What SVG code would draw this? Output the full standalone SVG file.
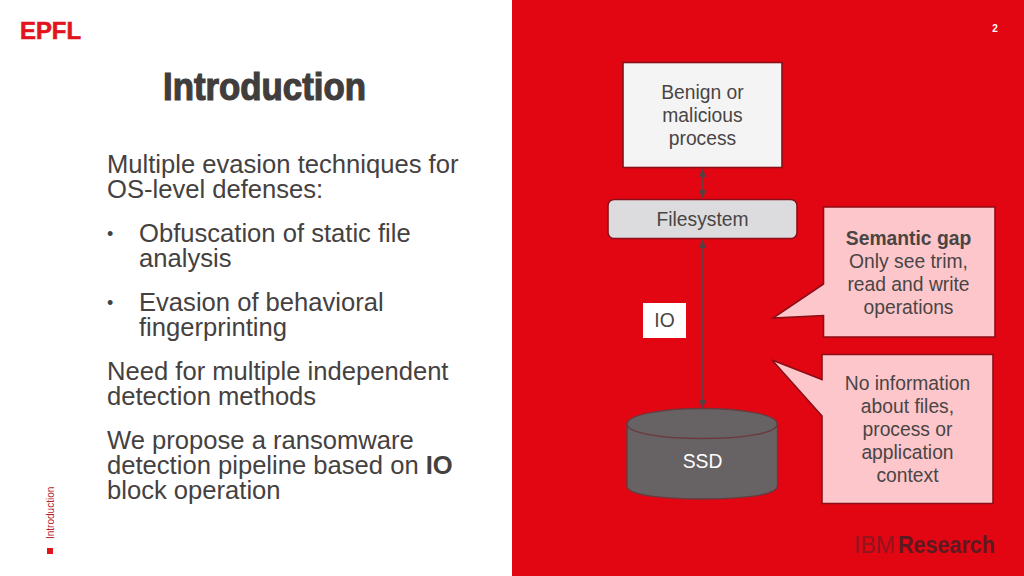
<svg xmlns="http://www.w3.org/2000/svg" width="1024" height="576" viewBox="0 0 1024 576">
<style>
text{font-family:"Liberation Sans",Arial,sans-serif}
.body{font-size:25.6px;fill:#45413f}
.bullet{font-size:18px;fill:#45413f}
.node{font-size:19.3px;fill:#494544;text-anchor:middle}
.edge{stroke:#6d3c40;stroke-width:1;fill:none}
.box{stroke:#8a0f18;stroke-width:1.6}
.bubble{fill:#fdc6cb;stroke:#8a0f18;stroke-width:1.6}
</style>
<defs>
<marker id="ah" markerWidth="10" markerHeight="8" refX="8" refY="4" orient="auto-start-reverse" markerUnits="userSpaceOnUse"><path d="M0 0L8 4L0 8Z" fill="#553f43"/></marker>
</defs>
<rect width="1024" height="576" fill="#ffffff"/>
<rect x="512" width="512" height="576" fill="#e20612"/>
<g id="logo"><text x="20" y="39" font-size="23.5" font-weight="700" fill="#e2141d" stroke="#e2141d" stroke-width="0.6" textLength="61" lengthAdjust="spacingAndGlyphs">EPFL</text></g>
<text x="995" y="32" font-size="10" font-weight="700" fill="#ffffff" text-anchor="middle">2</text>
<text x="163" y="100" font-size="38" font-weight="700" fill="#413d3c" stroke="#413d3c" stroke-width="1.2" textLength="203" lengthAdjust="spacingAndGlyphs">Introduction</text>
<g class="bodytext">
<text class="body" x="107" y="173">Multiple evasion techniques for</text>
<text class="body" x="107" y="198">OS-level defenses:</text>
<text class="bullet" x="107" y="240">•</text>
<text class="body" x="139" y="242">Obfuscation of static file</text>
<text class="body" x="139" y="267">analysis</text>
<text class="bullet" x="107" y="309">•</text>
<text class="body" x="139" y="311">Evasion of behavioral</text>
<text class="body" x="139" y="336">fingerprinting</text>
<text class="body" x="107" y="380">Need for multiple independent</text>
<text class="body" x="107" y="405">detection methods</text>
<text class="body" x="107" y="449">We propose a ransomware</text>
<text class="body" x="107" y="474">detection pipeline based on <tspan font-weight="700">IO</tspan></text>
<text class="body" x="107" y="499">block operation</text>
</g>
<text transform="translate(54 539) rotate(-90)" font-size="10" fill="#b5202a">Introduction</text>
<rect x="47" y="548" width="6" height="6" fill="#e2141d"/>
<g id="connectors">
<line class="edge" x1="702.500" y1="169" x2="702.500" y2="198" marker-start="url(#ah)" marker-end="url(#ah)"/>
<line class="edge" x1="702.500" y1="240" x2="702.500" y2="408" marker-start="url(#ah)" marker-end="url(#ah)"/>
</g>
<g id="process"><rect class="box" x="623" y="62.500" width="159" height="105" fill="#f4f4f5"/>
<text class="node" x="702.500" y="99">Benign or</text><text class="node" x="702.500" y="122">malicious</text><text class="node" x="702.500" y="145">process</text></g>
<g id="filesystem"><rect class="box" x="608" y="199.500" width="189" height="39" rx="6" fill="#dcdcde"/>
<text class="node" x="702.500" y="226">Filesystem</text></g>
<g id="io"><rect x="643" y="303" width="43" height="35" fill="#ffffff"/>
<text class="node" x="664.500" y="327">IO</text></g>
<g id="ssd">
<path d="M627 424C627 415 661 408.500 702.500 408.500C744 408.500 777.500 415 777.500 424V486C777.500 495 744 499 702.500 499C661 499 627 495 627 486Z" fill="#676263" stroke="#6a3a3e" stroke-width="1.400"/>
<path d="M627 424C627 433 661 438.500 702.500 438.500C744 438.500 777.500 433 777.500 424" fill="none" stroke="#6a3a3e" stroke-width="1.400"/>
<text class="node" x="702.500" y="468" style="fill:#ffffff">SSD</text></g>
<g id="gap"><path class="bubble" d="M823.500 207H995V337H823.500V315.500L773 318L823.500 284Z"/>
<text class="node" x="908.500" y="245" font-weight="700">Semantic gap</text><text class="node" x="908.500" y="268">Only see trim,</text><text class="node" x="908.500" y="291">read and write</text><text class="node" x="908.500" y="314">operations</text></g>
<g id="context"><path class="bubble" d="M822 354.500H993V503.500H822V416L772 360L822 379.500Z"/>
<text class="node" x="907.500" y="390">No information</text><text class="node" x="907.500" y="413">about files,</text><text class="node" x="907.500" y="436">process or</text><text class="node" x="907.500" y="459">application</text><text class="node" x="907.500" y="482">context</text></g>
<g id="ibm"><text x="854" y="553" font-size="23" fill="#8f1520" textLength="41" lengthAdjust="spacingAndGlyphs">IBM</text><text x="898" y="553" font-size="23" font-weight="700" fill="#5a1a22" textLength="97" lengthAdjust="spacingAndGlyphs">Research</text></g>
</svg>
